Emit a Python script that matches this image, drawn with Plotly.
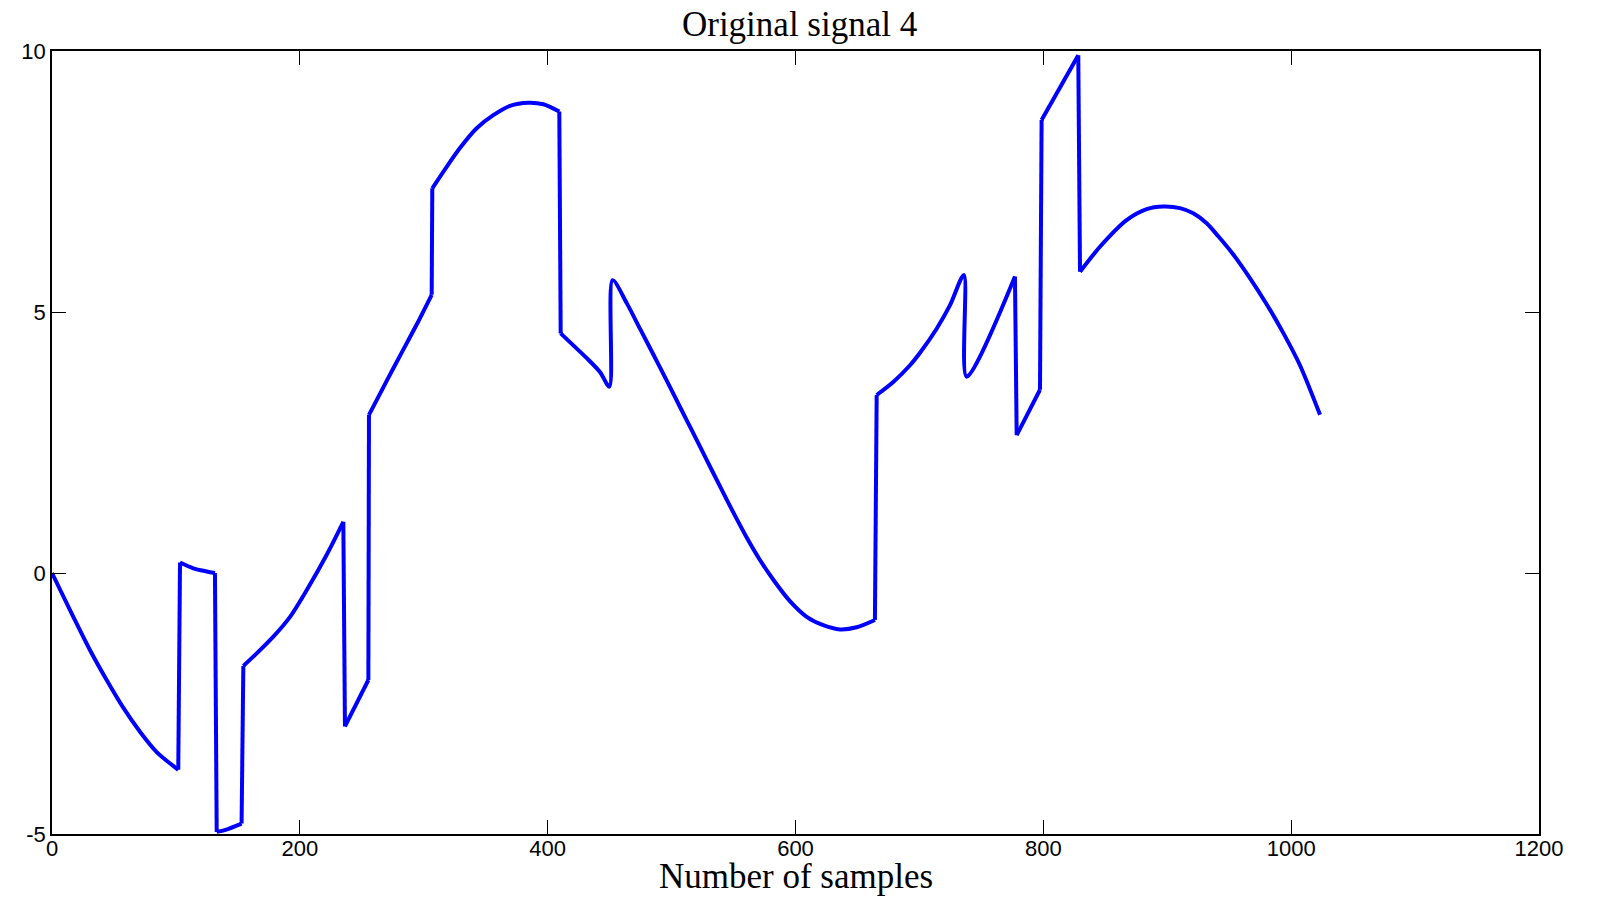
import plotly.graph_objects as go

# Sample index (x) and signal value (y)
sample_idx = [
    0, 17.2, 30.7, 44.1, 57.5, 71.0, 84.5, 101.9,
    103.3, 114.0, 124.8, 131.5,
    132.9, 140, 153,
    154.4, 165.2, 178.6, 192.1, 205.5, 221.7, 235.1,
    236.4, 255.3,
    255.8, 270.1, 280.8, 294.3, 306.4,
    306.9, 318.5, 329.2, 342.7, 356.1, 369.6, 384.4, 396.5, 409.4,
    410.5, 420.7, 431.4, 442.2, 449.8,
    452.4, 463.8, 474.5, 485.2, 496.0, 506.8, 517.5, 528.2, 539.1, 549.8,
    560.6, 571.3, 582.1, 595.5, 609, 622.4, 635.9, 649.3, 664.1,
    665.5, 678.9, 692.4, 700.5, 713.9, 724.7, 735.9,
    738.1, 777.1,
    778.5, 797.3,
    798.6, 828.2,
    829.6, 845.7, 867.2, 883.4, 896.8, 910.3, 921, 931.8, 941.2, 953.3,
    966.7, 980.2, 993.6, 1007.1, 1023.3,
]
signal = [
    0.0, -0.84, -1.48, -2.05, -2.58, -3.04, -3.43, -3.77,
    0.20, 0.09, 0.03, 0.0,
    -4.96, -4.92, -4.80,
    -1.78, -1.54, -1.22, -0.84, -0.33, 0.35, 0.98,
    -2.94, -2.05,
    3.03, 3.68, 4.16, 4.76, 5.33,
    7.37, 7.78, 8.14, 8.52, 8.77, 8.95, 9.01, 8.98, 8.84,
    4.59, 4.36, 4.12, 3.85, 3.57,
    5.61, 5.17, 4.68, 4.19, 3.69, 3.18, 2.68, 2.17, 1.66, 1.16,
    0.68, 0.25, -0.13, -0.54, -0.84, -1.00, -1.08, -1.04, -0.90,
    3.41, 3.66, 3.98, 4.22, 4.68, 5.13, 5.71,
    3.76, 5.68,
    2.64, 3.51,
    8.68, 9.92,
    5.77, 6.25, 6.76, 6.97, 7.02, 6.99, 6.89, 6.70, 6.45, 6.10,
    5.65, 5.15, 4.60, 3.98, 3.03,
]

x_ticks = [0, 200, 400, 600, 800, 1000, 1200]
y_ticks = [-5, 0, 5, 10]

BLUE = "#0000FF"
LW = 4

# split the signal into continuous pieces at the jumps (consecutive samples)
starts = [0] + [i + 1 for i in range(len(sample_idx) - 1)
                if sample_idx[i + 1] - sample_idx[i] < 2]
ends = starts[1:] + [len(sample_idx)]

fig = go.Figure()
# jump connectors (straight)
for s in starts[1:]:
    fig.add_trace(go.Scatter(
        x=sample_idx[s - 1:s + 1], y=signal[s - 1:s + 1], mode="lines",
        line=dict(color=BLUE, width=LW), showlegend=False, hoverinfo="skip",
    ))
# smooth pieces
for s, e in zip(starts, ends):
    fig.add_trace(go.Scatter(
        x=sample_idx[s:e], y=signal[s:e], mode="lines",
        line=dict(color=BLUE, width=LW, shape="spline", smoothing=0.8),
        showlegend=False, hoverinfo="x+y",
    ))

axis_common = dict(
    showline=True, linecolor="black", linewidth=1.5, mirror="ticks",
    ticks="inside", ticklen=14, tickwidth=1, tickcolor="black",
    showgrid=False, zeroline=False, automargin=False,
    tickfont=dict(family="Liberation Sans, Arial, sans-serif", size=22, color="black"),
)

serif = "Liberation Serif, Times New Roman, serif"

# the page body adds an 8px offset, so the figure is 8px smaller
W, H = 1595, 893
fig.update_layout(
    width=W, height=H,
    paper_bgcolor="white", plot_bgcolor="white",
    margin=dict(l=44, r=64, t=43, b=67),
    title=dict(
        text="Original signal 4", x=0.4963, xanchor="center", y=0.982, yanchor="middle",
        font=dict(family=serif, size=35, color="black"),
    ),
    xaxis=dict(
        range=[0, 1200], tickvals=x_ticks, ticktext=[str(v) for v in x_ticks],
        ticklabelstandoff=-6,
        **axis_common,
    ),
    yaxis=dict(
        range=[-5, 10], tickvals=y_ticks, ticktext=[str(v) for v in y_ticks],
        **axis_common,
    ),
    annotations=[dict(
        text="Number of samples", xref="paper", yref="paper",
        x=0.5, y=-42 / 783, xanchor="center", yanchor="middle", showarrow=False,
        font=dict(family=serif, size=35, color="black"),
    )],
)

fig.write_html("out.html")
